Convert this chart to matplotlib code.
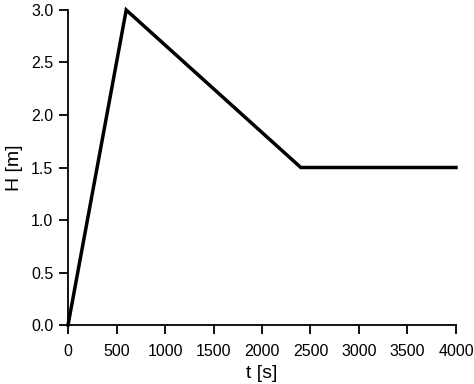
import matplotlib
matplotlib.use("Agg")
import matplotlib.pyplot as plt

# --- DATA ---
t = [0, 600, 2400, 4000]
H = [0.0, 3.0, 1.5, 1.5]
xticks = [0, 500, 1000, 1500, 2000, 2500, 3000, 3500, 4000]
yticks = [0.0, 0.5, 1.0, 1.5, 2.0, 2.5, 3.0]

plt.rcParams['font.family'] = ['Liberation Sans', 'DejaVu Sans']

fig = plt.figure(figsize=(4.74, 3.84), dpi=100)
ax = fig.add_axes([0.1435, 0.1536, 0.8185, 0.8204])

ax.plot(t, H, color="black", linewidth=2.5, clip_on=False, solid_joinstyle="miter")

ax.set_xlim(0, 4000)
ax.set_ylim(0, 3)
ax.set_xticks(xticks)
ax.set_yticks(yticks)
ax.set_yticklabels([f"{v:.1f}" for v in yticks])

for s in ["top", "right"]:
    ax.spines[s].set_visible(False)
for s in ["left", "bottom"]:
    ax.spines[s].set_linewidth(1.3)

ax.tick_params(direction="out", length=6.5, width=1.3, labelsize=11.5)
ax.tick_params(axis="x", pad=7.5)
ax.tick_params(axis="y", pad=4)
ax.set_xlabel("t [s]", fontsize=14, labelpad=4)
ax.set_ylabel("H [m]", fontsize=14, labelpad=6)

fig.savefig("out.png", dpi=100)
